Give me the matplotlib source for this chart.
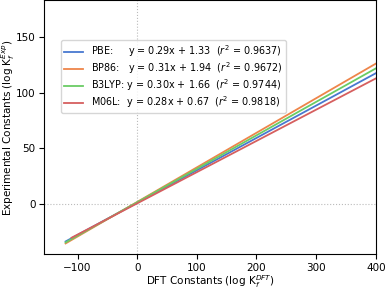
import numpy as np
import matplotlib.pyplot as plt

# fit results for each functional
methods = ['PBE', 'BP86', 'B3LYP', 'M06L']
slopes = [0.29, 0.31, 0.30, 0.28]
intercepts = [1.33, 1.94, 1.66, 0.67]
r2 = [0.9637, 0.9672, 0.9744, 0.9818]
x_start = [-120, -120, -120, -110]
x_end = [400, 400, 400, 400]
colors = ['#4878d0', '#ee854a', '#6acc64', '#d65f5f']
pads = ['    ', '  ', '', ' ']

plt.rcParams['font.size'] = 7.5
fig, ax = plt.subplots(figsize=(3.87, 2.89), dpi=100)

ax.axvline(0, color='#bbbbbb', lw=0.8, linestyle=':')
ax.axhline(0, color='#bbbbbb', lw=0.8, linestyle=':')

for m, a, b, r, x0, x1, c, p in zip(methods, slopes, intercepts, r2, x_start, x_end, colors, pads):
    x = np.array([x0, x1])
    ax.plot(x, a * x + b, color=c, lw=1.3,
            label=f'{m}:{p} y = {a:.2f}x + {b:.2f}  ($r^2$ = {r:.4f})')

ax.set_xlim(-156, 400)
ax.set_ylim(-45, 183)
ax.set_xticks([-100, 0, 100, 200, 300, 400])
ax.set_yticks([0, 50, 100, 150])
ax.tick_params(labelsize=7.5, pad=2.5)
ax.set_xlabel(r'DFT Constants (log K$_f^{DFT}$)', labelpad=0.6)
ax.set_ylabel(r'Experimental Constants (log K$_f^{Exp}$)', labelpad=-1)
ax.legend(loc='upper left', bbox_to_anchor=(0.05, 0.843), borderaxespad=0,
          fontsize=6.9, handlelength=2.0, labelspacing=0.12, borderpad=0.35)

plt.subplots_adjust(left=0.114, right=0.971, top=1.0, bottom=0.12)
plt.savefig('out.png', dpi=100)
